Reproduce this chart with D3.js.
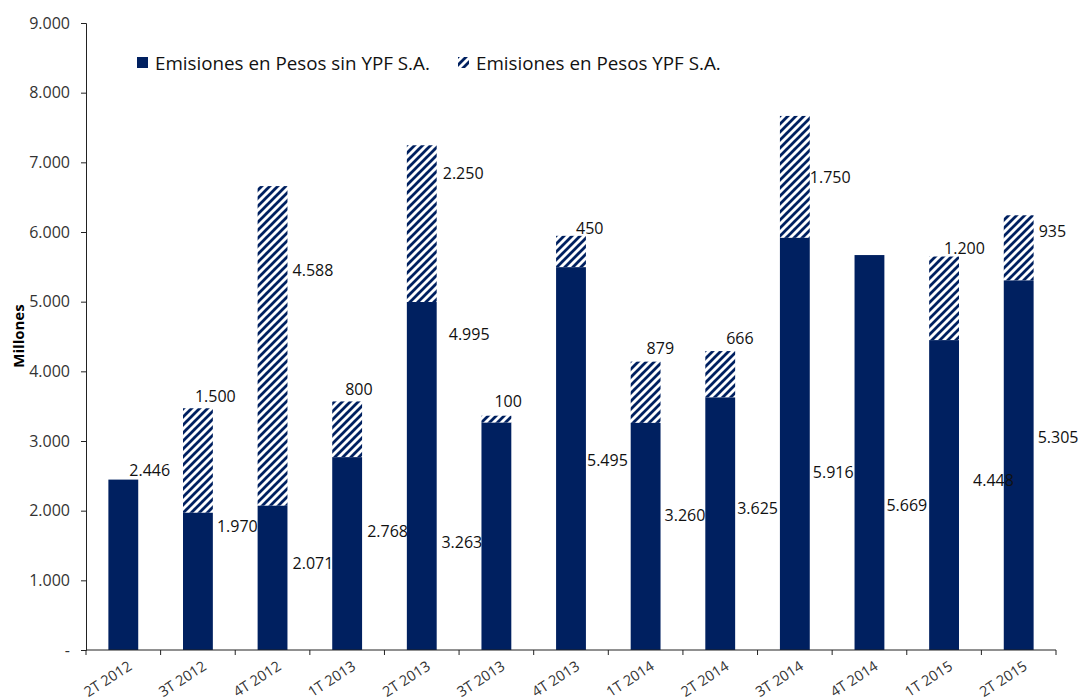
<!DOCTYPE html>
<html>
<head>
<meta charset="utf-8">
<script src="https://cdn.jsdelivr.net/npm/d3@7"></script>
<style>
  body { margin: 0; background: #fff; }
  svg { display: block; font-family: "Open Sans", sans-serif; }
</style>
</head>
<body>
<svg id="chart" width="1080" height="700"></svg>
<script>
const categories = ['2T 2012', '3T 2012', '4T 2012', '1T 2013', '2T 2013', '3T 2013', '4T 2013',
  '1T 2014', '2T 2014', '3T 2014', '4T 2014', '1T 2015', '2T 2015'];
const sinYPF = [2446, 1970, 2071, 2768, 4995, 3263, 5495, 3260, 3625, 5916, 5669, 4448, 5305];
const conYPF = [0, 1500, 4588, 800, 2250, 100, 450, 879, 666, 1750, 0, 1200, 935];
const yTicks = [0, 1000, 2000, 3000, 4000, 5000, 6000, 7000, 8000, 9000];
const seriesNames = ['Emisiones en Pesos sin YPF S.A.', 'Emisiones en Pesos YPF S.A.'];

// label nudges (px) from bar center / segment top, the labels were hand placed in the original
const baseNudge = [[6, -9], [19, 13], [20, 58], [20, 74], [27, 32], [-55, 120], [16, 193],
  [19, 92], [17, 111], [18, 234], [17, 250], [29, 140], [19, 157]];
const topNudge = [null, [-3, -12], [20, 84], [-2, -12], [21, 28], [-2, -14], [5, -8],
  [1, -13], [6, -13], [15, 61], null, [0, -8], [20, 16]];

const NAVY = '#002060';
const margin = { left: 86, right: 24, top: 23, bottom: 50 };
const W = 1080, H = 700;

const es = d3.formatLocale({ decimal: ',', thousands: '.', grouping: [3], currency: ['$', ''] });
const fmt = es.format(',d');

const svg = d3.select('#chart');
svg.append('rect').attr('width', W).attr('height', H).attr('fill', '#fff');

const defs = svg.append('defs');
defs.append('pattern')
  .attr('id', 'hatch')
  .attr('patternUnits', 'userSpaceOnUse')
  .attr('width', 8).attr('height', 8)
  .append('path')
  .attr('d', 'M-2,2 l4,-4 M0,8 l8,-8 M6,10 l4,-4')
  .attr('stroke', NAVY)
  .attr('stroke-width', 2.8);

const x = d3.scaleBand()
  .domain(categories)
  .range([margin.left, W - margin.right])
  .paddingInner(0.6)
  .paddingOuter(0.3);

const y = d3.scaleLinear()
  .domain([0, 9000])
  .range([H - margin.bottom, margin.top]);

const rows = categories.map((c, i) => ({ cat: c, base: sinYPF[i], top: conYPF[i], i }));

// bars
const g = svg.append('g');
g.selectAll('.base').data(rows).join('rect')
  .attr('class', 'base')
  .attr('x', d => x(d.cat))
  .attr('width', x.bandwidth())
  .attr('y', d => y(d.base))
  .attr('height', d => y(0) - y(d.base))
  .attr('fill', NAVY);

g.selectAll('.top').data(rows.filter(d => d.top > 0)).join('rect')
  .attr('class', 'top')
  .attr('x', d => x(d.cat))
  .attr('width', x.bandwidth())
  .attr('y', d => y(d.base + d.top))
  .attr('height', d => y(d.base) - y(d.base + d.top))
  .attr('fill', 'url(#hatch)');

// y axis
const yAxis = svg.append('g')
  .attr('transform', `translate(${margin.left},0)`)
  .call(d3.axisLeft(y).tickValues(yTicks).tickSize(5).tickPadding(11)
    .tickFormat(v => v === 0 ? '-' : fmt(v)));
yAxis.select('.domain').attr('stroke', '#222');
yAxis.selectAll('line').attr('stroke', '#222');
yAxis.selectAll('text').attr('font-size', 16).attr('fill', '#333')
  .attr('font-family', '"Open Sans", sans-serif');

// x axis: ticks between categories, labels centered & rotated
const xAxis = svg.append('g');
xAxis.append('line')
  .attr('x1', margin.left).attr('x2', W - margin.right)
  .attr('y1', y(0)).attr('y2', y(0))
  .attr('stroke', '#222');
const bounds = d3.range(categories.length + 1).map(k => margin.left + k * x.step());
xAxis.selectAll('.xtick').data(bounds).join('line')
  .attr('class', 'xtick')
  .attr('x1', d => d).attr('x2', d => d)
  .attr('y1', y(0)).attr('y2', y(0) + 5)
  .attr('stroke', '#222');
xAxis.selectAll('.xlab').data(categories).join('text')
  .attr('class', 'xlab')
  .attr('transform', d => `translate(${x(d) + x.bandwidth() / 2 + 4},${y(0) + 10}) rotate(-33)`)
  .attr('text-anchor', 'end')
  .attr('dy', '0.71em')
  .attr('font-size', 14.5)
  .attr('fill', '#333')
  .text(d => d);

// y title
svg.append('text')
  .attr('transform', `translate(24,336) rotate(-90)`)
  .attr('text-anchor', 'middle')
  .attr('font-size', 15)
  .attr('font-weight', 'bold')
  .attr('fill', '#000')
  .text('Millones');

// value labels
const labels = svg.append('g').attr('font-size', 16).attr('fill', '#111');
labels.selectAll('.lb').data(rows).join('text')
  .attr('class', 'lb')
  .attr('x', d => x(d.cat) + x.bandwidth() / 2 + baseNudge[d.i][0])
  .attr('y', d => y(d.base) + baseNudge[d.i][1])
  .attr('dy', '0.36em')
  .text(d => fmt(d.base));
labels.selectAll('.lt').data(rows.filter(d => d.top > 0)).join('text')
  .attr('class', 'lt')
  .attr('x', d => x(d.cat) + x.bandwidth() / 2 + topNudge[d.i][0])
  .attr('y', d => y(d.base + d.top) + topNudge[d.i][1])
  .attr('dy', '0.36em')
  .text(d => fmt(d.top));

// legend
const legend = svg.append('g').attr('font-size', 18.8);
const legItems = [
  { name: seriesNames[0], fill: NAVY, x: 137 },
  { name: seriesNames[1], fill: 'url(#hatch)', x: 458 }
];
const li = legend.selectAll('g').data(legItems).join('g')
  .attr('transform', d => `translate(${d.x},57)`);
li.append('rect').attr('width', 11).attr('height', 11).attr('fill', d => d.fill);
li.append('text').attr('x', 18).attr('y', 6).attr('dy', '0.35em').attr('fill', '#111')
  .text(d => d.name);
</script>
</body>
</html>
